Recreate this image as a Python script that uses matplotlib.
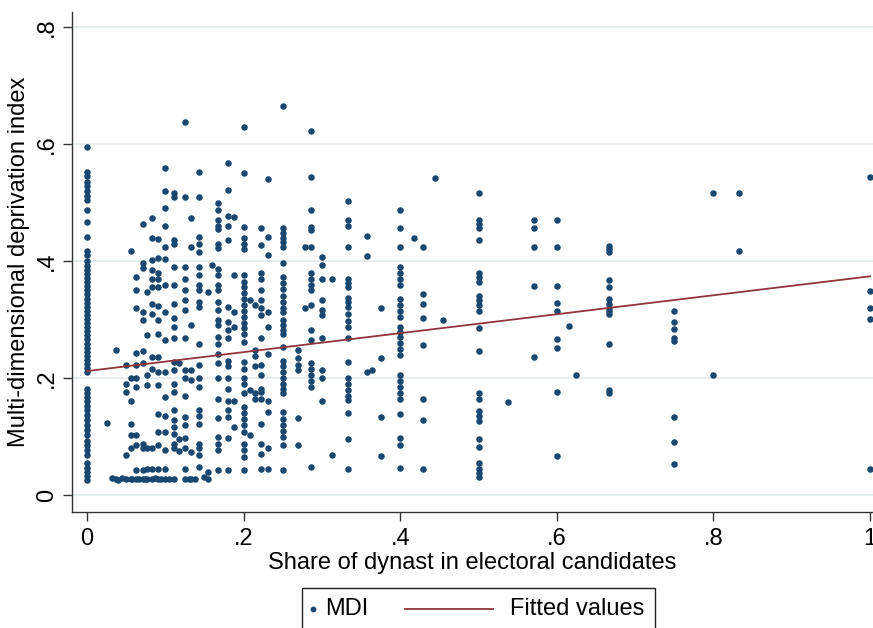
import numpy as np
import matplotlib.pyplot as plt
from matplotlib.patches import Rectangle
from matplotlib.lines import Line2D

plt.rcParams['font.family'] = ['Liberation Sans', 'DejaVu Sans']

# share of dynasts (column values) and the MDI values observed at each share
share_levels = [0.0, 0.025, 0.037, 0.05, 0.056, 0.0625, 0.071, 0.077, 0.083, 0.091,
                0.1, 0.111, 0.118, 0.125, 0.133, 0.143, 0.154, 0.16, 0.167, 0.18,
                0.1875, 0.2, 0.208, 0.214, 0.222, 0.231, 0.25, 0.27, 0.278, 0.286,
                0.3, 0.313, 0.333, 0.357, 0.364, 0.375, 0.4, 0.417, 0.429, 0.444,
                0.455, 0.5, 0.538, 0.571, 0.6, 0.615, 0.625, 0.667, 0.75, 0.8,
                0.833, 1.0]
mdi_by_level = [
    [0.595, 0.552, 0.545, 0.535, 0.528, 0.52, 0.512, 0.504, 0.487, 0.467, 0.441,
     0.418, 0.410, 0.400, 0.392, 0.385, 0.378, 0.371, 0.364, 0.357, 0.350, 0.343,
     0.336, 0.329, 0.322, 0.315, 0.308, 0.301, 0.294, 0.287, 0.280, 0.273, 0.266,
     0.259, 0.252, 0.245, 0.238, 0.231, 0.224, 0.217, 0.210, 0.182, 0.175, 0.168,
     0.160, 0.152, 0.145, 0.137, 0.128, 0.120, 0.111, 0.102, 0.093, 0.085, 0.077,
     0.068, 0.055, 0.047, 0.040, 0.033, 0.026],
    [0.123],
    [0.248, 0.027],
    [0.222, 0.19, 0.176, 0.068, 0.027],
    [0.418, 0.2, 0.16, 0.122, 0.102, 0.08, 0.027],
    [0.373, 0.35, 0.32, 0.243, 0.222, 0.2, 0.185, 0.102, 0.085, 0.042, 0.027],
    [0.464, 0.396, 0.388, 0.313, 0.3, 0.247, 0.225, 0.088, 0.08, 0.042, 0.027],
    [0.347, 0.273, 0.205, 0.188, 0.08, 0.044, 0.027],
    [0.473, 0.44, 0.402, 0.385, 0.37, 0.355, 0.327, 0.31, 0.236, 0.216, 0.08,
     0.045, 0.027],
    [0.437, 0.405, 0.38, 0.37, 0.355, 0.324, 0.3, 0.276, 0.236, 0.21, 0.188,
     0.139, 0.108, 0.085, 0.045, 0.027],
    [0.56, 0.52, 0.49, 0.46, 0.424, 0.404, 0.359, 0.313, 0.265, 0.21, 0.168,
     0.136, 0.108, 0.077, 0.045, 0.027],
    [0.516, 0.51, 0.436, 0.43, 0.39, 0.359, 0.327, 0.302, 0.288, 0.268, 0.228,
     0.214, 0.19, 0.176, 0.145, 0.128, 0.117, 0.105, 0.088, 0.08, 0.027],
    [0.225, 0.096, 0.076],
    [0.638, 0.51, 0.39, 0.37, 0.35, 0.333, 0.316, 0.268, 0.214, 0.2, 0.17, 0.134,
     0.12, 0.097, 0.08, 0.044, 0.027],
    [0.473, 0.424, 0.29, 0.214, 0.196, 0.074, 0.027],
    [0.553, 0.51, 0.442, 0.43, 0.416, 0.39, 0.376, 0.36, 0.35, 0.33, 0.322, 0.259,
     0.222, 0.2, 0.185, 0.145, 0.136, 0.122, 0.088, 0.08, 0.068, 0.048],
    [0.348, 0.04, 0.028],
    [0.393],
    [0.5, 0.487, 0.47, 0.46, 0.455, 0.43, 0.422, 0.387, 0.376, 0.36, 0.35, 0.33,
     0.316, 0.3, 0.29, 0.27, 0.259, 0.242, 0.225, 0.2, 0.165, 0.131, 0.1, 0.088,
     0.077, 0.042],
    [0.567, 0.522, 0.478, 0.46, 0.436, 0.322, 0.296, 0.282, 0.268, 0.23, 0.22,
     0.2, 0.182, 0.16, 0.145, 0.134, 0.097, 0.042],
    [0.476, 0.376, 0.313, 0.288, 0.16, 0.117],
    [0.63, 0.55, 0.458, 0.44, 0.43, 0.42, 0.376, 0.365, 0.355, 0.345, 0.335,
     0.325, 0.315, 0.305, 0.295, 0.285, 0.275, 0.262, 0.228, 0.215, 0.2, 0.19,
     0.174, 0.15, 0.14, 0.13, 0.12, 0.108, 0.088, 0.077, 0.065, 0.042],
    [0.333, 0.18, 0.103],
    [0.325, 0.248, 0.237, 0.22, 0.174, 0.165],
    [0.456, 0.427, 0.38, 0.37, 0.35, 0.333, 0.32, 0.308, 0.268, 0.222, 0.205,
     0.182, 0.177, 0.165, 0.122, 0.088, 0.07, 0.045],
    [0.541, 0.442, 0.41, 0.313, 0.288, 0.242, 0.16, 0.142, 0.08, 0.045],
    [0.666, 0.456, 0.448, 0.44, 0.432, 0.424, 0.396, 0.373, 0.363, 0.353, 0.34,
     0.33, 0.32, 0.313, 0.3, 0.29, 0.282, 0.276, 0.254, 0.23, 0.22, 0.21, 0.2,
     0.19, 0.182, 0.174, 0.142, 0.13, 0.12, 0.11, 0.1, 0.085, 0.042],
    [0.248, 0.235, 0.222, 0.214, 0.131, 0.085],
    [0.424, 0.319],
    [0.622, 0.544, 0.487, 0.459, 0.453, 0.424, 0.38, 0.37, 0.36, 0.35, 0.325,
     0.282, 0.265, 0.225, 0.215, 0.205, 0.195, 0.185, 0.048],
    [0.407, 0.393, 0.37, 0.333, 0.316, 0.308, 0.268, 0.214, 0.2, 0.16],
    [0.37, 0.068],
    [0.502, 0.47, 0.46, 0.425, 0.37, 0.362, 0.355, 0.337, 0.33, 0.322, 0.31,
     0.297, 0.288, 0.268, 0.228, 0.2, 0.19, 0.18, 0.17, 0.163, 0.141, 0.096, 0.044],
    [0.443, 0.408, 0.21],
    [0.214],
    [0.32, 0.235, 0.133, 0.067],
    [0.487, 0.456, 0.425, 0.39, 0.38, 0.37, 0.36, 0.335, 0.325, 0.315, 0.305,
     0.288, 0.278, 0.27, 0.26, 0.25, 0.24, 0.205, 0.195, 0.185, 0.175, 0.164,
     0.138, 0.097, 0.085, 0.047],
    [0.44],
    [0.425, 0.344, 0.327, 0.302, 0.257, 0.165, 0.129, 0.044],
    [0.542],
    [0.3],
    [0.517, 0.47, 0.463, 0.456, 0.436, 0.38, 0.372, 0.365, 0.34, 0.333, 0.325,
     0.314, 0.286, 0.247, 0.175, 0.164, 0.143, 0.135, 0.126, 0.096, 0.083, 0.054,
     0.045, 0.038, 0.031],
    [0.159],
    [0.471, 0.456, 0.425, 0.357, 0.236],
    [0.471, 0.425, 0.357, 0.328, 0.314, 0.267, 0.252, 0.176, 0.067],
    [0.289],
    [0.205],
    [0.426, 0.421, 0.416, 0.367, 0.355, 0.335, 0.327, 0.32, 0.314, 0.31, 0.259,
     0.179, 0.174],
    [0.314, 0.296, 0.284, 0.268, 0.264, 0.133, 0.091, 0.053],
    [0.517, 0.205],
    [0.517, 0.417],
    [0.543, 0.349, 0.32, 0.301, 0.044],
]

# bottom row of low-MDI districts with small dynast shares
share_floor = [0.032, 0.04, 0.045, 0.058, 0.067, 0.074, 0.087, 0.095, 0.105,
               0.13, 0.138, 0.15]
mdi_floor = [0.029, 0.026, 0.029, 0.027, 0.028, 0.027, 0.029, 0.027, 0.028,
             0.028, 0.027, 0.03]

# fitted values (linear fit) at the ends of the range
fit_share = [0.0, 1.0]
fit_mdi = [0.212, 0.374]

share = np.concatenate([np.full(len(v), s) for s, v in zip(share_levels, mdi_by_level)]
                       + [np.array(share_floor)])
mdi = np.concatenate([np.array(v) for v in mdi_by_level] + [np.array(mdi_floor)])

navy = '#1a476f'
maroon = '#90353b'
fs = 17

fig = plt.figure(figsize=(8.73, 6.28), dpi=100)
ax = fig.add_axes([72 / 873, 1 - 512 / 628, 1 - 72 / 873, 500 / 628])
ax.set_xlim(-0.0192, 1.0038)
ax.set_ylim(-0.029, 0.826)

ax.set_yticks([0, 0.2, 0.4, 0.6, 0.8])
ax.set_yticklabels(['0', '.2', '.4', '.6', '.8'], rotation=90, va='center')
ax.set_xticks([0, 0.2, 0.4, 0.6, 0.8, 1.0])
ax.set_xticklabels(['0', '.2', '.4', '.6', '.8', '1'])
ax.yaxis.grid(True, color='#e3ecef', lw=1.3)
ax.set_axisbelow(True)

ax.scatter(share, mdi, s=22, color=navy, lw=0, zorder=3)
ax.plot(fit_share, fit_mdi, color=maroon, lw=1.3, zorder=4)

for side in ['top', 'right']:
    ax.spines[side].set_visible(False)
for side in ['left', 'bottom']:
    ax.spines[side].set_color('#333333')
    ax.spines[side].set_linewidth(1.0)
ax.tick_params(axis='both', direction='out', length=6.3, width=1, color='#333333',
               labelsize=fs)
ax.tick_params(axis='y', pad=4)
ax.tick_params(axis='x', pad=5)

ax.set_xlabel('Share of dynast in electoral candidates', fontsize=fs, labelpad=2)
ax.set_ylabel('Multi-dimensional deprivation index', fontsize=fs, labelpad=4)

# legend box below the plot, cut by the bottom edge like the original
fig.add_artist(Rectangle((302 / 873, -0.05), 353 / 873, 0.05 + 1 - 588 / 628,
                         transform=fig.transFigure, fill=False, edgecolor='#222222',
                         lw=1.0))
ly = 1 - 609 / 628
fig.add_artist(Line2D([313 / 873], [ly], marker='o', markersize=3.2, color=navy,
                      lw=0, transform=fig.transFigure))
fig.text(325 / 873, ly, 'MDI', fontsize=fs, va='center')
fig.add_artist(Line2D([405 / 873, 493 / 873], [ly, ly], color=maroon, lw=1.3,
                      transform=fig.transFigure))
fig.text(510 / 873, ly, 'Fitted values', fontsize=fs, va='center')

fig.savefig('out.png', dpi=100)
